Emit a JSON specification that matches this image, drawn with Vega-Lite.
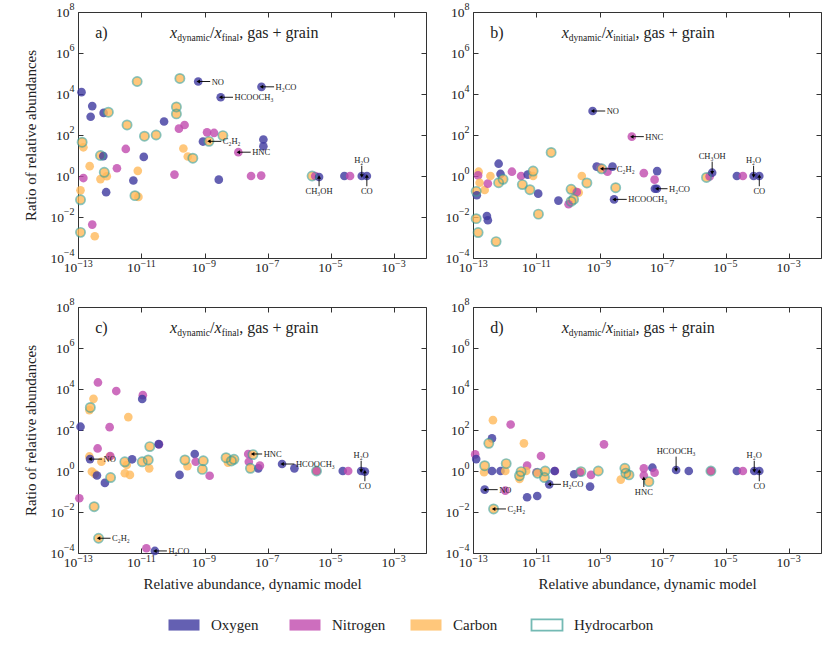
{
  "$schema": "https://vega.github.io/schema/vega-lite/v6.json",
  "background": "white",
  "padding": {"left": 23, "top": 1, "right": 0, "bottom": 0},
  "config": {
    "font": "Liberation Serif",
    "view": {"stroke": "#333", "strokeWidth": 1},
    "text": {"font": "Liberation Serif", "color": "#222"},
    "axis": {"grid": false, "domain": false, "tickSize": -5, "tickColor": "#333", "tickWidth": 1, "labelFont": "Liberation Serif", "labelFontSize": 13.5, "labelColor": "#222", "labelPadding": 4, "labelFlush": false, "labelOverlap": false, "titleFont": "Liberation Serif", "titleFontSize": 15, "titleFontWeight": "normal", "titleColor": "#222"}
  },
  "datasets": {
    "pts": [
      {"panel":"a","x":1.29e-13,"y":12300,"group":"Oxygen"},
      {"panel":"a","x":2.82e-13,"y":2570,"group":"Oxygen"},
      {"panel":"a","x":2.51e-13,"y":776,"group":"Oxygen"},
      {"panel":"a","x":6.46e-13,"y":1200,"group":"Oxygen"},
      {"panel":"a","x":9.12e-13,"y":1290,"group":"Carbon","hc":true},
      {"panel":"a","x":1.35e-13,"y":44.7,"group":"Carbon","hc":true},
      {"panel":"a","x":1.48e-13,"y":25.1,"group":"Carbon"},
      {"panel":"a","x":5.13e-13,"y":10,"group":"Carbon","hc":true},
      {"panel":"a","x":6.31e-13,"y":9.33,"group":"Oxygen"},
      {"panel":"a","x":2.34e-13,"y":3.02,"group":"Carbon"},
      {"panel":"a","x":6.76e-13,"y":1.51,"group":"Carbon","hc":true},
      {"panel":"a","x":5.13e-13,"y":0.708,"group":"Carbon"},
      {"panel":"a","x":8.13e-13,"y":0.977,"group":"Carbon"},
      {"panel":"a","x":1.48e-13,"y":0.794,"group":"Nitrogen"},
      {"panel":"a","x":1.2e-13,"y":0.2,"group":"Carbon"},
      {"panel":"a","x":1.2e-13,"y":0.0692,"group":"Carbon","hc":true},
      {"panel":"a","x":7.76e-13,"y":0.162,"group":"Oxygen"},
      {"panel":"a","x":2.82e-13,"y":0.00427,"group":"Nitrogen"},
      {"panel":"a","x":3.39e-13,"y":0.00115,"group":"Carbon"},
      {"panel":"a","x":1.2e-13,"y":0.00178,"group":"Carbon","hc":true},
      {"panel":"a","x":1.7e-12,"y":2.4,"group":"Nitrogen"},
      {"panel":"a","x":3.24e-12,"y":20.9,"group":"Nitrogen"},
      {"panel":"a","x":3.55e-12,"y":309,"group":"Carbon","hc":true},
      {"panel":"a","x":7.41e-12,"y":40700,"group":"Carbon","hc":true},
      {"panel":"a","x":1.26e-11,"y":87.1,"group":"Carbon","hc":true},
      {"panel":"a","x":1.2e-11,"y":8.51,"group":"Oxygen"},
      {"panel":"a","x":7.76e-12,"y":1.78,"group":"Carbon"},
      {"panel":"a","x":5.62e-12,"y":0.603,"group":"Oxygen"},
      {"panel":"a","x":6.31e-12,"y":0.11,"group":"Carbon","hc":true},
      {"panel":"a","x":8.13e-12,"y":0.0955,"group":"Carbon"},
      {"panel":"a","x":2.95e-11,"y":100,"group":"Carbon","hc":true},
      {"panel":"a","x":5.25e-11,"y":457,"group":"Oxygen"},
      {"panel":"a","x":1.66e-10,"y":57500,"group":"Carbon","hc":true},
      {"panel":"a","x":1.29e-10,"y":2340,"group":"Carbon","hc":true},
      {"panel":"a","x":1.29e-10,"y":1070,"group":"Carbon","hc":true},
      {"panel":"a","x":1.55e-10,"y":204,"group":"Nitrogen"},
      {"panel":"a","x":2.34e-10,"y":309,"group":"Nitrogen"},
      {"panel":"a","x":2.14e-10,"y":21.9,"group":"Carbon"},
      {"panel":"a","x":2.95e-10,"y":8.91,"group":"Carbon"},
      {"panel":"a","x":4.27e-10,"y":7.41,"group":"Carbon","hc":true},
      {"panel":"a","x":1.12e-10,"y":1.17,"group":"Nitrogen"},
      {"panel":"a","x":6.31e-10,"y":40700,"group":"Oxygen"},
      {"panel":"a","x":8.91e-10,"y":47.9,"group":"Oxygen"},
      {"panel":"a","x":1.2e-9,"y":135,"group":"Nitrogen"},
      {"panel":"a","x":2.0e-9,"y":126,"group":"Nitrogen"},
      {"panel":"a","x":1.38e-9,"y":49,"group":"Carbon","hc":true},
      {"panel":"a","x":3.8e-9,"y":93.3,"group":"Carbon","hc":true},
      {"panel":"a","x":3.24e-9,"y":6920,"group":"Oxygen"},
      {"panel":"a","x":2.82e-9,"y":0.661,"group":"Oxygen"},
      {"panel":"a","x":1.17e-8,"y":14.5,"group":"Nitrogen"},
      {"panel":"a","x":2.95e-8,"y":1.0,"group":"Nitrogen"},
      {"panel":"a","x":6.17e-8,"y":1.05,"group":"Nitrogen"},
      {"panel":"a","x":6.31e-8,"y":22400,"group":"Oxygen"},
      {"panel":"a","x":7.24e-8,"y":60.3,"group":"Oxygen"},
      {"panel":"a","x":7.24e-8,"y":28.2,"group":"Oxygen"},
      {"panel":"a","x":2.51e-6,"y":1,"group":"Carbon","hc":true},
      {"panel":"a","x":3.16e-6,"y":1,"group":"Nitrogen"},
      {"panel":"a","x":4.17e-6,"y":0.891,"group":"Oxygen"},
      {"panel":"a","x":2.63e-5,"y":1,"group":"Oxygen"},
      {"panel":"a","x":3.98e-5,"y":1,"group":"Nitrogen"},
      {"panel":"a","x":9.33e-5,"y":1,"group":"Oxygen"},
      {"panel":"a","x":1.35e-4,"y":1,"group":"Oxygen"},

      {"panel":"b","x":1.51e-13,"y":1.62,"group":"Carbon"},
      {"panel":"b","x":1.45e-13,"y":1.07,"group":"Nitrogen"},
      {"panel":"b","x":1.62e-13,"y":0.468,"group":"Carbon"},
      {"panel":"b","x":2.34e-13,"y":0.209,"group":"Carbon"},
      {"panel":"b","x":2.95e-13,"y":0.427,"group":"Nitrogen"},
      {"panel":"b","x":1.26e-13,"y":0.178,"group":"Carbon","hc":true},
      {"panel":"b","x":1.32e-13,"y":0.115,"group":"Oxygen"},
      {"panel":"b","x":3.55e-13,"y":1.0,"group":"Carbon"},
      {"panel":"b","x":6.46e-13,"y":3.98,"group":"Oxygen"},
      {"panel":"b","x":7.41e-13,"y":1.26,"group":"Oxygen"},
      {"panel":"b","x":6.46e-13,"y":0.468,"group":"Carbon","hc":true},
      {"panel":"b","x":8.91e-13,"y":0.692,"group":"Carbon","hc":true},
      {"panel":"b","x":1.7e-12,"y":1.62,"group":"Nitrogen"},
      {"panel":"b","x":3.31e-12,"y":1.0,"group":"Nitrogen"},
      {"panel":"b","x":3.63e-12,"y":0.38,"group":"Carbon","hc":true},
      {"panel":"b","x":5.37e-12,"y":1.17,"group":"Oxygen"},
      {"panel":"b","x":7.94e-12,"y":1.74,"group":"Carbon","hc":true},
      {"panel":"b","x":7.94e-12,"y":1.0,"group":"Carbon"},
      {"panel":"b","x":6.31e-12,"y":0.214,"group":"Carbon","hc":true},
      {"panel":"b","x":1.15e-11,"y":0.138,"group":"Oxygen"},
      {"panel":"b","x":1.17e-11,"y":0.0138,"group":"Carbon","hc":true},
      {"panel":"b","x":2.95e-11,"y":14.1,"group":"Carbon","hc":true},
      {"panel":"b","x":5.01e-11,"y":0.0631,"group":"Oxygen"},
      {"panel":"b","x":1.26e-10,"y":0.224,"group":"Carbon","hc":true},
      {"panel":"b","x":1.58e-10,"y":0.186,"group":"Carbon"},
      {"panel":"b","x":2.19e-10,"y":0.155,"group":"Carbon"},
      {"panel":"b","x":1.91e-10,"y":0.166,"group":"Nitrogen"},
      {"panel":"b","x":1.51e-10,"y":0.0724,"group":"Carbon","hc":true},
      {"panel":"b","x":1.26e-10,"y":0.0575,"group":"Carbon","hc":true},
      {"panel":"b","x":1.05e-10,"y":0.0417,"group":"Nitrogen"},
      {"panel":"b","x":2.75e-10,"y":1.0,"group":"Carbon"},
      {"panel":"b","x":3.98e-10,"y":0.457,"group":"Carbon","hc":true},
      {"panel":"b","x":8.13e-10,"y":2.88,"group":"Oxygen"},
      {"panel":"b","x":1.05e-9,"y":2.51,"group":"Nitrogen"},
      {"panel":"b","x":1.17e-9,"y":2.24,"group":"Carbon","hc":true},
      {"panel":"b","x":1.78e-9,"y":1.62,"group":"Nitrogen"},
      {"panel":"b","x":2.57e-9,"y":2.88,"group":"Oxygen"},
      {"panel":"b","x":3.24e-9,"y":0.269,"group":"Carbon","hc":true},
      {"panel":"b","x":2.88e-9,"y":0.0724,"group":"Oxygen"},
      {"panel":"b","x":2.51e-8,"y":1.38,"group":"Nitrogen"},
      {"panel":"b","x":6.61e-8,"y":1.74,"group":"Oxygen"},
      {"panel":"b","x":5.5e-8,"y":0.661,"group":"Nitrogen"},
      {"panel":"b","x":5.62e-8,"y":0.24,"group":"Oxygen"},
      {"panel":"b","x":6.46e-8,"y":0.24,"group":"Oxygen"},
      {"panel":"b","x":2.75e-13,"y":0.0112,"group":"Oxygen"},
      {"panel":"b","x":2.95e-13,"y":0.00692,"group":"Oxygen"},
      {"panel":"b","x":1.26e-13,"y":0.00832,"group":"Carbon","hc":true},
      {"panel":"b","x":1.45e-13,"y":0.00174,"group":"Carbon","hc":true},
      {"panel":"b","x":5.37e-13,"y":0.000631,"group":"Carbon","hc":true},
      {"panel":"b","x":6.03e-10,"y":1480,"group":"Oxygen"},
      {"panel":"b","x":1.05e-8,"y":83.2,"group":"Nitrogen"},
      {"panel":"b","x":2.4e-6,"y":0.851,"group":"Carbon","hc":true},
      {"panel":"b","x":3.02e-6,"y":0.955,"group":"Nitrogen"},
      {"panel":"b","x":3.63e-6,"y":1.45,"group":"Oxygen"},
      {"panel":"b","x":2.19e-5,"y":1,"group":"Oxygen"},
      {"panel":"b","x":3.39e-5,"y":1,"group":"Nitrogen"},
      {"panel":"b","x":7.41e-5,"y":1,"group":"Oxygen"},
      {"panel":"b","x":1.12e-4,"y":1,"group":"Oxygen"},

      {"panel":"c","x":1.2e-13,"y":145,"group":"Oxygen"},
      {"panel":"c","x":4.27e-13,"y":20900,"group":"Nitrogen"},
      {"panel":"c","x":3.09e-13,"y":3310,"group":"Carbon"},
      {"panel":"c","x":2.45e-13,"y":1260,"group":"Carbon","hc":true},
      {"panel":"c","x":2.29e-13,"y":933,"group":"Carbon"},
      {"panel":"c","x":1.62e-12,"y":7940,"group":"Nitrogen"},
      {"panel":"c","x":3.89e-12,"y":427,"group":"Carbon"},
      {"panel":"c","x":1.12e-11,"y":5010,"group":"Nitrogen"},
      {"panel":"c","x":1.07e-11,"y":3240,"group":"Oxygen"},
      {"panel":"c","x":1.0e-12,"y":138,"group":"Nitrogen"},
      {"panel":"c","x":4.17e-13,"y":12.6,"group":"Nitrogen"},
      {"panel":"c","x":2.29e-13,"y":5.13,"group":"Carbon"},
      {"panel":"c","x":2.4e-13,"y":3.8,"group":"Oxygen"},
      {"panel":"c","x":5.5e-13,"y":2.82,"group":"Carbon"},
      {"panel":"c","x":2.75e-13,"y":0.933,"group":"Carbon"},
      {"panel":"c","x":3.39e-13,"y":0.724,"group":"Carbon"},
      {"panel":"c","x":3.98e-13,"y":0.603,"group":"Oxygen"},
      {"panel":"c","x":1.0e-12,"y":5.01,"group":"Carbon"},
      {"panel":"c","x":1.05e-12,"y":5.37,"group":"Nitrogen"},
      {"panel":"c","x":7.08e-13,"y":0.263,"group":"Oxygen"},
      {"panel":"c","x":1.07e-12,"y":0.479,"group":"Carbon","hc":true},
      {"panel":"c","x":1.1e-13,"y":0.0468,"group":"Nitrogen"},
      {"panel":"c","x":3.24e-13,"y":0.0182,"group":"Carbon","hc":true},
      {"panel":"c","x":4.47e-13,"y":0.000525,"group":"Carbon","hc":true},
      {"panel":"c","x":1.45e-11,"y":0.00017,"group":"Nitrogen"},
      {"panel":"c","x":2.69e-11,"y":0.000126,"group":"Oxygen"},
      {"panel":"c","x":3.02e-12,"y":2.82,"group":"Carbon","hc":true},
      {"panel":"c","x":3.47e-12,"y":1.95,"group":"Carbon"},
      {"panel":"c","x":3.02e-12,"y":0.776,"group":"Carbon"},
      {"panel":"c","x":4.37e-12,"y":0.646,"group":"Carbon"},
      {"panel":"c","x":5.13e-12,"y":3.72,"group":"Oxygen"},
      {"panel":"c","x":1.07e-11,"y":2.82,"group":"Carbon","hc":true},
      {"panel":"c","x":1.66e-11,"y":3.47,"group":"Carbon","hc":true},
      {"panel":"c","x":1.78e-11,"y":1.35,"group":"Carbon"},
      {"panel":"c","x":1.86e-11,"y":15.5,"group":"Carbon","hc":true},
      {"panel":"c","x":3.63e-11,"y":20.0,"group":"Nitrogen"},
      {"panel":"c","x":3.55e-11,"y":20.4,"group":"Oxygen"},
      {"panel":"c","x":1.62e-10,"y":0.646,"group":"Oxygen"},
      {"panel":"c","x":2.4e-10,"y":3.47,"group":"Carbon","hc":true},
      {"panel":"c","x":2.88e-10,"y":1.74,"group":"Carbon"},
      {"panel":"c","x":4.9e-10,"y":6.76,"group":"Oxygen"},
      {"panel":"c","x":5.25e-10,"y":2.82,"group":"Nitrogen"},
      {"panel":"c","x":9.12e-10,"y":3.16,"group":"Carbon","hc":true},
      {"panel":"c","x":8.51e-10,"y":1.2,"group":"Carbon","hc":true},
      {"panel":"c","x":1.45e-9,"y":0.589,"group":"Nitrogen"},
      {"panel":"c","x":4.79e-9,"y":4.47,"group":"Carbon","hc":true},
      {"panel":"c","x":5.5e-9,"y":2.57,"group":"Carbon"},
      {"panel":"c","x":7.08e-9,"y":3.09,"group":"Carbon","hc":true},
      {"panel":"c","x":8.51e-9,"y":3.72,"group":"Carbon","hc":true},
      {"panel":"c","x":2.4e-8,"y":6.76,"group":"Nitrogen"},
      {"panel":"c","x":3.39e-8,"y":6.31,"group":"Carbon","hc":true},
      {"panel":"c","x":2.51e-8,"y":2.82,"group":"Nitrogen"},
      {"panel":"c","x":2.82e-8,"y":1.35,"group":"Carbon","hc":true},
      {"panel":"c","x":5.01e-8,"y":1.35,"group":"Oxygen"},
      {"panel":"c","x":5.62e-8,"y":1.82,"group":"Nitrogen"},
      {"panel":"c","x":2.82e-7,"y":2.19,"group":"Oxygen"},
      {"panel":"c","x":6.92e-7,"y":1.35,"group":"Oxygen"},
      {"panel":"c","x":3.47e-6,"y":1,"group":"Carbon","hc":true},
      {"panel":"c","x":3.47e-6,"y":1,"group":"Nitrogen"},
      {"panel":"c","x":2.34e-5,"y":1,"group":"Oxygen"},
      {"panel":"c","x":3.47e-5,"y":1,"group":"Nitrogen"},
      {"panel":"c","x":8.91e-5,"y":1,"group":"Oxygen"},
      {"panel":"c","x":1.17e-4,"y":0.933,"group":"Oxygen"},

      {"panel":"d","x":1.17e-13,"y":6.46,"group":"Nitrogen"},
      {"panel":"d","x":1.26e-13,"y":3.8,"group":"Oxygen"},
      {"panel":"d","x":4.27e-13,"y":302,"group":"Carbon"},
      {"panel":"d","x":1.55e-12,"y":186,"group":"Nitrogen"},
      {"panel":"d","x":3.98e-13,"y":38.9,"group":"Oxygen"},
      {"panel":"d","x":3.16e-13,"y":22.4,"group":"Carbon","hc":true},
      {"panel":"d","x":4.07e-12,"y":22.4,"group":"Carbon"},
      {"panel":"d","x":1.41e-11,"y":5.37,"group":"Nitrogen"},
      {"panel":"d","x":5.13e-12,"y":1.82,"group":"Nitrogen"},
      {"panel":"d","x":2.34e-13,"y":1.82,"group":"Carbon","hc":true},
      {"panel":"d","x":1.12e-12,"y":2.29,"group":"Carbon","hc":true},
      {"panel":"d","x":2.24e-13,"y":0.871,"group":"Carbon"},
      {"panel":"d","x":3.98e-13,"y":1.0,"group":"Oxygen"},
      {"panel":"d","x":7.41e-13,"y":1.0,"group":"Oxygen"},
      {"panel":"d","x":1.05e-12,"y":1.0,"group":"Carbon"},
      {"panel":"d","x":3.31e-12,"y":0.933,"group":"Carbon","hc":true},
      {"panel":"d","x":2.95e-12,"y":0.589,"group":"Carbon","hc":true},
      {"panel":"d","x":2.95e-12,"y":0.407,"group":"Carbon"},
      {"panel":"d","x":4.79e-12,"y":1.0,"group":"Carbon"},
      {"panel":"d","x":1.02e-11,"y":0.871,"group":"Nitrogen"},
      {"panel":"d","x":1.1e-11,"y":0.776,"group":"Carbon","hc":true},
      {"panel":"d","x":1.91e-11,"y":1.0,"group":"Carbon","hc":true},
      {"panel":"d","x":1.82e-11,"y":0.479,"group":"Carbon","hc":true},
      {"panel":"d","x":3.89e-11,"y":1.0,"group":"Nitrogen"},
      {"panel":"d","x":3.8e-11,"y":1.0,"group":"Oxygen"},
      {"panel":"d","x":2.57e-11,"y":0.224,"group":"Oxygen"},
      {"panel":"d","x":2.34e-13,"y":0.123,"group":"Oxygen"},
      {"panel":"d","x":1.05e-12,"y":0.11,"group":"Nitrogen"},
      {"panel":"d","x":5.13e-12,"y":0.0525,"group":"Oxygen"},
      {"panel":"d","x":1.07e-11,"y":0.0603,"group":"Oxygen"},
      {"panel":"d","x":4.47e-13,"y":0.0141,"group":"Carbon","hc":true},
      {"panel":"d","x":1.38e-9,"y":20.0,"group":"Nitrogen"},
      {"panel":"d","x":1.58e-10,"y":0.692,"group":"Oxygen"},
      {"panel":"d","x":2.57e-10,"y":0.933,"group":"Carbon","hc":true},
      {"panel":"d","x":2.4e-10,"y":0.871,"group":"Nitrogen"},
      {"panel":"d","x":5.37e-10,"y":0.646,"group":"Nitrogen"},
      {"panel":"d","x":5.01e-10,"y":0.174,"group":"Oxygen"},
      {"panel":"d","x":9.12e-10,"y":1.0,"group":"Carbon","hc":true},
      {"panel":"d","x":4.68e-9,"y":0.38,"group":"Carbon"},
      {"panel":"d","x":6.31e-9,"y":1.35,"group":"Carbon","hc":true},
      {"panel":"d","x":6.76e-9,"y":0.776,"group":"Carbon","hc":true},
      {"panel":"d","x":8.51e-9,"y":0.646,"group":"Carbon","hc":true},
      {"panel":"d","x":2.51e-8,"y":1.35,"group":"Nitrogen"},
      {"panel":"d","x":2.51e-8,"y":0.603,"group":"Nitrogen"},
      {"panel":"d","x":3.63e-8,"y":0.302,"group":"Carbon","hc":true},
      {"panel":"d","x":4.68e-8,"y":1.45,"group":"Oxygen"},
      {"panel":"d","x":5.5e-8,"y":0.832,"group":"Nitrogen"},
      {"panel":"d","x":2.63e-7,"y":1.12,"group":"Oxygen"},
      {"panel":"d","x":6.61e-7,"y":1,"group":"Oxygen"},
      {"panel":"d","x":3.31e-6,"y":1,"group":"Carbon","hc":true},
      {"panel":"d","x":3.31e-6,"y":1,"group":"Nitrogen"},
      {"panel":"d","x":2.19e-5,"y":1,"group":"Oxygen"},
      {"panel":"d","x":3.39e-5,"y":1,"group":"Nitrogen"},
      {"panel":"d","x":7.76e-5,"y":1,"group":"Oxygen"},
      {"panel":"d","x":1.12e-4,"y":1,"group":"Oxygen"}
    ],
    "ann": [
      {"panel":"a","label":"NO","x":6.31e-10,"y":40700,"x2":1.51e-9,"y2":40700,"dir":"right"},
      {"panel":"a","label":"H₂CO","x":6.31e-8,"y":22400,"x2":1.58e-7,"y2":22400,"dir":"right"},
      {"panel":"a","label":"HCOOCH₃","x":3.24e-9,"y":6920,"x2":7.94e-9,"y2":6920,"dir":"right"},
      {"panel":"a","label":"C₂H₂","x":1.38e-9,"y":49,"x2":3.39e-9,"y2":49,"dir":"right"},
      {"panel":"a","label":"HNC","x":1.17e-8,"y":14.5,"x2":2.88e-8,"y2":14.5,"dir":"right"},
      {"panel":"a","label":"CH₃OH","x":4.17e-6,"y":0.891,"x2":4.17e-6,"y2":0.316,"dir":"below"},
      {"panel":"a","label":"H₂O","x":9.33e-5,"y":1,"x2":9.33e-5,"y2":3.16,"dir":"above"},
      {"panel":"a","label":"CO","x":1.35e-4,"y":1,"x2":1.35e-4,"y2":0.316,"dir":"below"},
      {"panel":"b","label":"NO","x":6.03e-10,"y":1480,"x2":1.51e-9,"y2":1480,"dir":"right"},
      {"panel":"b","label":"HNC","x":1.05e-8,"y":83.2,"x2":2.51e-8,"y2":83.2,"dir":"right"},
      {"panel":"b","label":"C₂H₂","x":1.17e-9,"y":2.24,"x2":3.16e-9,"y2":2.24,"dir":"right"},
      {"panel":"b","label":"H₂CO","x":6.46e-8,"y":0.24,"x2":1.41e-7,"y2":0.24,"dir":"right"},
      {"panel":"b","label":"HCOOCH₃","x":2.88e-9,"y":0.0724,"x2":7.24e-9,"y2":0.0724,"dir":"right"},
      {"panel":"b","label":"CH₃OH","x":3.63e-6,"y":1.45,"x2":3.63e-6,"y2":5.01,"dir":"above"},
      {"panel":"b","label":"H₂O","x":7.41e-5,"y":1,"x2":7.41e-5,"y2":3.16,"dir":"above"},
      {"panel":"b","label":"CO","x":1.12e-4,"y":1,"x2":1.12e-4,"y2":0.316,"dir":"below"},
      {"panel":"c","label":"NO","x":2.4e-13,"y":3.8,"x2":5.75e-13,"y2":3.8,"dir":"right"},
      {"panel":"c","label":"C₂H₂","x":4.47e-13,"y":0.000525,"x2":1.07e-12,"y2":0.000525,"dir":"right"},
      {"panel":"c","label":"H₂CO","x":2.69e-11,"y":0.000126,"x2":6.46e-11,"y2":0.000126,"dir":"right"},
      {"panel":"c","label":"HNC","x":3.31e-8,"y":6.76,"x2":6.61e-8,"y2":6.76,"dir":"right"},
      {"panel":"c","label":"HCOOCH₃","x":2.82e-7,"y":2.19,"x2":6.92e-7,"y2":2.19,"dir":"right"},
      {"panel":"c","label":"H₂O","x":8.91e-5,"y":1,"x2":8.91e-5,"y2":3.16,"dir":"above"},
      {"panel":"c","label":"CO","x":1.17e-4,"y":0.933,"x2":1.17e-4,"y2":0.316,"dir":"below"},
      {"panel":"d","label":"NO","x":2.34e-13,"y":0.123,"x2":6.03e-13,"y2":0.123,"dir":"right"},
      {"panel":"d","label":"C₂H₂","x":4.47e-13,"y":0.0141,"x2":1.1e-12,"y2":0.0141,"dir":"right"},
      {"panel":"d","label":"H₂CO","x":2.57e-11,"y":0.224,"x2":6.03e-11,"y2":0.224,"dir":"right"},
      {"panel":"d","label":"HNC","x":2.51e-8,"y":0.447,"x2":2.51e-8,"y2":0.166,"dir":"below"},
      {"panel":"d","label":"HCOOCH₃","x":2.63e-7,"y":1.12,"x2":2.63e-7,"y2":5.01,"dir":"above"},
      {"panel":"d","label":"H₂O","x":7.76e-5,"y":1,"x2":7.76e-5,"y2":3.16,"dir":"above"},
      {"panel":"d","label":"CO","x":1.12e-4,"y":1,"x2":1.12e-4,"y2":0.316,"dir":"below"}
    ],
    "ttl": [
      {"panel":"a","kind":"rm","x":3.5e-13,"y":1e7,"text":"a)"},
      {"panel":"a","kind":"xi","x":8.15e-11,"y":1e7,"text":"x"},
      {"panel":"a","kind":"sub","x":1.371e-10,"y":1e7,"text":"dynamic"},
      {"panel":"a","kind":"rm","x":1.496e-9,"y":1e7,"text":"/"},
      {"panel":"a","kind":"xi","x":2.075e-9,"y":1e7,"text":"x"},
      {"panel":"a","kind":"sub","x":3.49e-9,"y":1e7,"text":"final"},
      {"panel":"a","kind":"rm","x":1.245e-8,"y":1e7,"text":", gas + grain"},
      {"panel":"b","kind":"rm","x":3.5e-13,"y":1e7,"text":"b)"},
      {"panel":"b","kind":"xi","x":6.35e-11,"y":1e7,"text":"x"},
      {"panel":"b","kind":"sub","x":1.069e-10,"y":1e7,"text":"dynamic"},
      {"panel":"b","kind":"rm","x":1.167e-9,"y":1e7,"text":"/"},
      {"panel":"b","kind":"xi","x":1.607e-9,"y":1e7,"text":"x"},
      {"panel":"b","kind":"sub","x":2.704e-9,"y":1e7,"text":"initial"},
      {"panel":"b","kind":"rm","x":1.371e-8,"y":1e7,"text":", gas + grain"},
      {"panel":"c","kind":"rm","x":3.5e-13,"y":1e7,"text":"c)"},
      {"panel":"c","kind":"xi","x":8.15e-11,"y":1e7,"text":"x"},
      {"panel":"c","kind":"sub","x":1.371e-10,"y":1e7,"text":"dynamic"},
      {"panel":"c","kind":"rm","x":1.496e-9,"y":1e7,"text":"/"},
      {"panel":"c","kind":"xi","x":2.075e-9,"y":1e7,"text":"x"},
      {"panel":"c","kind":"sub","x":3.49e-9,"y":1e7,"text":"final"},
      {"panel":"c","kind":"rm","x":1.245e-8,"y":1e7,"text":", gas + grain"},
      {"panel":"d","kind":"rm","x":3.5e-13,"y":1e7,"text":"d)"},
      {"panel":"d","kind":"xi","x":6.35e-11,"y":1e7,"text":"x"},
      {"panel":"d","kind":"sub","x":1.069e-10,"y":1e7,"text":"dynamic"},
      {"panel":"d","kind":"rm","x":1.167e-9,"y":1e7,"text":"/"},
      {"panel":"d","kind":"xi","x":1.607e-9,"y":1e7,"text":"x"},
      {"panel":"d","kind":"sub","x":2.704e-9,"y":1e7,"text":"initial"},
      {"panel":"d","kind":"rm","x":1.371e-8,"y":1e7,"text":", gas + grain"}
    ],
    "leg": [
      {"group":"Oxygen"},{"group":"Nitrogen"},{"group":"Carbon"},{"group":"Hydrocarbon"}
    ]
  },
  "spacing": 23,
  "vconcat": [
   {"spacing": 22, "vconcat": [
    {"spacing": 17, "hconcat": [
      {"width": 348, "height": 246, "resolve": {"axis": {"x": "independent", "y": "independent"}},
       "layer": [
        {"layer": [
          {"data": {"name": "pts"}, "transform": [{"filter": "datum.panel === 'a'"}],
           "mark": {"type": "point", "filled": true, "size": 75, "fillOpacity": 0.8, "strokeWidth": 0},
           "encoding": {
             "x": {"field": "x", "type": "quantitative", "scale": {"type": "log", "domain": [1e-13, 0.01], "nice": false},
                   "axis": {"values": [1e-13, 1e-11, 1e-9, 1e-7, 1e-5, 0.001], "labelExpr": "'10'", "title": null, "labelPadding": 7, "labelOffset": {"condition": {"test": "datum.value < 1e-10", "value": -8}, "value": -6.5}}},
             "y": {"field": "y", "type": "quantitative", "scale": {"type": "log", "domain": [0.0001, 100000000], "nice": false},
                   "axis": {"values": [0.0001, 0.01, 1, 100, 10000, 1000000, 100000000], "labelExpr": "'10'", "title": "Ratio of relative abundances", "titlePadding": 11, "labelPadding": {"condition": {"test": "datum.value < 0.5", "value": 19.6}, "value": 14}}},
             "fill": {"field": "group", "type": "nominal", "scale": {"domain": ["Oxygen", "Nitrogen", "Carbon", "Hydrocarbon"], "range": ["#3d389f", "#c04aae", "#ffb95a", "#ffffff"]}, "legend": null}
           }},
          {"data": {"name": "pts"}, "transform": [{"filter": "datum.panel === 'a' && datum.hc"}],
           "mark": {"type": "point", "filled": false, "size": 85, "stroke": "#3a9e94", "strokeWidth": 1.7, "strokeOpacity": 0.85},
           "encoding": {"x": {"field": "x", "type": "quantitative", "axis": {"title": null}}, "y": {"field": "y", "type": "quantitative", "axis": {"title": "Ratio of relative abundances"}}}},
          {"mark": {"type": "rule", "strokeDash": [6, 3.5], "color": "#777", "strokeWidth": 1.4},
           "encoding": {"y": {"datum": 1, "type": "quantitative", "axis": {"title": "Ratio of relative abundances"}}}},
          {"data": {"name": "ann"}, "transform": [{"filter": "datum.panel === 'a'"}],
           "mark": {"type": "rule", "color": "black", "strokeWidth": 0.9},
           "encoding": {"x": {"field": "x", "type": "quantitative", "axis": {"title": null}}, "y": {"field": "y", "type": "quantitative", "axis": {"title": "Ratio of relative abundances"}}, "x2": {"field": "x2"}, "y2": {"field": "y2"}}},
          {"data": {"name": "ann"}, "transform": [{"filter": "datum.panel === 'a'"}],
           "mark": {"type": "point", "filled": true, "color": "black", "size": 16, "opacity": 1, "strokeWidth": 0},
           "encoding": {"x": {"field": "x", "type": "quantitative", "axis": {"title": null}}, "y": {"field": "y", "type": "quantitative", "axis": {"title": "Ratio of relative abundances"}},
             "shape": {"field": "dir", "type": "nominal", "scale": {"domain": ["right", "above", "below"], "range": ["triangle-left", "triangle-down", "triangle-up"]}, "legend": null}}},
          {"data": {"name": "ann"}, "transform": [{"filter": "datum.panel === 'a' && datum.dir === 'right'"}],
           "mark": {"type": "text", "align": "left", "baseline": "middle", "dx": 1.5, "fontSize": 8.5},
           "encoding": {"x": {"field": "x2", "type": "quantitative", "axis": {"title": null}}, "y": {"field": "y2", "type": "quantitative", "axis": {"title": "Ratio of relative abundances"}}, "text": {"field": "label"}}},
          {"data": {"name": "ann"}, "transform": [{"filter": "datum.panel === 'a' && datum.dir === 'above'"}],
           "mark": {"type": "text", "align": "center", "baseline": "bottom", "dy": -1, "fontSize": 8.5},
           "encoding": {"x": {"field": "x2", "type": "quantitative", "axis": {"title": null}}, "y": {"field": "y2", "type": "quantitative", "axis": {"title": "Ratio of relative abundances"}}, "text": {"field": "label"}}},
          {"data": {"name": "ann"}, "transform": [{"filter": "datum.panel === 'a' && datum.dir === 'below'"}],
           "mark": {"type": "text", "align": "center", "baseline": "top", "dy": 1, "fontSize": 8.5},
           "encoding": {"x": {"field": "x2", "type": "quantitative", "axis": {"title": null}}, "y": {"field": "y2", "type": "quantitative", "axis": {"title": "Ratio of relative abundances"}}, "text": {"field": "label"}}},
          {"data": {"name": "ttl"}, "transform": [{"filter": "datum.panel === 'a' && datum.kind === 'rm'"}],
           "mark": {"type": "text", "align": "left", "baseline": "middle", "fontSize": 16},
           "encoding": {"x": {"field": "x", "type": "quantitative", "axis": {"title": null}}, "y": {"field": "y", "type": "quantitative", "axis": {"title": "Ratio of relative abundances"}}, "text": {"field": "text"}}},
          {"data": {"name": "ttl"}, "transform": [{"filter": "datum.panel === 'a' && datum.kind === 'xi'"}],
           "mark": {"type": "text", "align": "left", "baseline": "middle", "fontSize": 16, "fontStyle": "italic"},
           "encoding": {"x": {"field": "x", "type": "quantitative", "axis": {"title": null}}, "y": {"field": "y", "type": "quantitative", "axis": {"title": "Ratio of relative abundances"}}, "text": {"field": "text"}}},
          {"data": {"name": "ttl"}, "transform": [{"filter": "datum.panel === 'a' && datum.kind === 'sub'"}],
           "mark": {"type": "text", "align": "left", "baseline": "middle", "fontSize": 9.5, "dy": 5},
           "encoding": {"x": {"field": "x", "type": "quantitative", "axis": {"title": null}}, "y": {"field": "y", "type": "quantitative", "axis": {"title": "Ratio of relative abundances"}}, "text": {"field": "text"}}}
        ]},
        {"data": {"name": "pts"}, "transform": [{"filter": "datum.panel === 'a'"}],
         "mark": {"type": "point", "opacity": 0},
         "encoding": {"x": {"field": "x", "type": "quantitative", "axis": {"orient": "top", "labels": false, "title": null, "values": [1e-13, 1e-11, 1e-9, 1e-7, 1e-5, 0.001]}},
                      "y": {"field": "y", "type": "quantitative", "axis": {"orient": "right", "labels": false, "title": null, "values": [0.0001, 0.01, 1, 100, 10000, 1000000, 100000000]}}}},
        {"data": {"name": "pts"}, "transform": [{"filter": "datum.panel === 'a'"}],
         "mark": {"type": "point", "opacity": 0},
         "encoding": {"x": {"field": "x", "type": "quantitative", "axis": {"orient": "bottom", "ticks": false, "title": null, "labelFontSize": 10, "labelAlign": "left", "labelPadding": 0, "values": [1e-13, 1e-11, 1e-9, 1e-7, 1e-5, 0.001], "labelExpr": "['−13','−11','−9','−7','−5','−3'][round((log(datum.value)/LN10+13)/2)]", "labelOffset": {"condition": {"test": "datum.value < 1e-10", "value": -1.3}, "value": 0.2}}},
                      "y": {"field": "y", "type": "quantitative", "axis": {"orient": "left", "ticks": false, "title": null, "labelFontSize": 10, "labelAlign": "right", "labelPadding": 4, "labelOffset": -5.5, "values": [0.0001, 0.01, 1, 100, 10000, 1000000, 100000000], "labelExpr": "['−4','−2','0','2','4','6','8'][round((log(datum.value)/LN10+4)/2)]"}}}}
       ]},
      {"width": 348, "height": 246, "resolve": {"axis": {"x": "independent", "y": "independent"}},
       "layer": [
        {"layer": [
          {"data": {"name": "pts"}, "transform": [{"filter": "datum.panel === 'b'"}],
           "mark": {"type": "point", "filled": true, "size": 75, "fillOpacity": 0.8, "strokeWidth": 0},
           "encoding": {
             "x": {"field": "x", "type": "quantitative", "scale": {"type": "log", "domain": [1e-13, 0.01], "nice": false},
                   "axis": {"values": [1e-13, 1e-11, 1e-9, 1e-7, 1e-5, 0.001], "labelExpr": "'10'", "title": null, "labelPadding": 7, "labelOffset": {"condition": {"test": "datum.value < 1e-10", "value": -8}, "value": -6.5}}},
             "y": {"field": "y", "type": "quantitative", "scale": {"type": "log", "domain": [0.0001, 100000000], "nice": false},
                   "axis": {"values": [0.0001, 0.01, 1, 100, 10000, 1000000, 100000000], "labelExpr": "'10'", "title": null, "labelPadding": {"condition": {"test": "datum.value < 0.5", "value": 19.6}, "value": 14}}},
             "fill": {"field": "group", "type": "nominal", "scale": {"domain": ["Oxygen", "Nitrogen", "Carbon", "Hydrocarbon"], "range": ["#3d389f", "#c04aae", "#ffb95a", "#ffffff"]}, "legend": null}
           }},
          {"data": {"name": "pts"}, "transform": [{"filter": "datum.panel === 'b' && datum.hc"}],
           "mark": {"type": "point", "filled": false, "size": 85, "stroke": "#3a9e94", "strokeWidth": 1.7, "strokeOpacity": 0.85},
           "encoding": {"x": {"field": "x", "type": "quantitative", "axis": {"title": null}}, "y": {"field": "y", "type": "quantitative", "axis": {"title": null}}}},
          {"mark": {"type": "rule", "strokeDash": [6, 3.5], "color": "#777", "strokeWidth": 1.4},
           "encoding": {"y": {"datum": 1, "type": "quantitative", "axis": {"title": null}}}},
          {"data": {"name": "ann"}, "transform": [{"filter": "datum.panel === 'b'"}],
           "mark": {"type": "rule", "color": "black", "strokeWidth": 0.9},
           "encoding": {"x": {"field": "x", "type": "quantitative", "axis": {"title": null}}, "y": {"field": "y", "type": "quantitative", "axis": {"title": null}}, "x2": {"field": "x2"}, "y2": {"field": "y2"}}},
          {"data": {"name": "ann"}, "transform": [{"filter": "datum.panel === 'b'"}],
           "mark": {"type": "point", "filled": true, "color": "black", "size": 16, "opacity": 1, "strokeWidth": 0},
           "encoding": {"x": {"field": "x", "type": "quantitative", "axis": {"title": null}}, "y": {"field": "y", "type": "quantitative", "axis": {"title": null}},
             "shape": {"field": "dir", "type": "nominal", "scale": {"domain": ["right", "above", "below"], "range": ["triangle-left", "triangle-down", "triangle-up"]}, "legend": null}}},
          {"data": {"name": "ann"}, "transform": [{"filter": "datum.panel === 'b' && datum.dir === 'right'"}],
           "mark": {"type": "text", "align": "left", "baseline": "middle", "dx": 1.5, "fontSize": 8.5},
           "encoding": {"x": {"field": "x2", "type": "quantitative", "axis": {"title": null}}, "y": {"field": "y2", "type": "quantitative", "axis": {"title": null}}, "text": {"field": "label"}}},
          {"data": {"name": "ann"}, "transform": [{"filter": "datum.panel === 'b' && datum.dir === 'above'"}],
           "mark": {"type": "text", "align": "center", "baseline": "bottom", "dy": -1, "fontSize": 8.5},
           "encoding": {"x": {"field": "x2", "type": "quantitative", "axis": {"title": null}}, "y": {"field": "y2", "type": "quantitative", "axis": {"title": null}}, "text": {"field": "label"}}},
          {"data": {"name": "ann"}, "transform": [{"filter": "datum.panel === 'b' && datum.dir === 'below'"}],
           "mark": {"type": "text", "align": "center", "baseline": "top", "dy": 1, "fontSize": 8.5},
           "encoding": {"x": {"field": "x2", "type": "quantitative", "axis": {"title": null}}, "y": {"field": "y2", "type": "quantitative", "axis": {"title": null}}, "text": {"field": "label"}}},
          {"data": {"name": "ttl"}, "transform": [{"filter": "datum.panel === 'b' && datum.kind === 'rm'"}],
           "mark": {"type": "text", "align": "left", "baseline": "middle", "fontSize": 16},
           "encoding": {"x": {"field": "x", "type": "quantitative", "axis": {"title": null}}, "y": {"field": "y", "type": "quantitative", "axis": {"title": null}}, "text": {"field": "text"}}},
          {"data": {"name": "ttl"}, "transform": [{"filter": "datum.panel === 'b' && datum.kind === 'xi'"}],
           "mark": {"type": "text", "align": "left", "baseline": "middle", "fontSize": 16, "fontStyle": "italic"},
           "encoding": {"x": {"field": "x", "type": "quantitative", "axis": {"title": null}}, "y": {"field": "y", "type": "quantitative", "axis": {"title": null}}, "text": {"field": "text"}}},
          {"data": {"name": "ttl"}, "transform": [{"filter": "datum.panel === 'b' && datum.kind === 'sub'"}],
           "mark": {"type": "text", "align": "left", "baseline": "middle", "fontSize": 9.5, "dy": 5},
           "encoding": {"x": {"field": "x", "type": "quantitative", "axis": {"title": null}}, "y": {"field": "y", "type": "quantitative", "axis": {"title": null}}, "text": {"field": "text"}}}
        ]},
        {"data": {"name": "pts"}, "transform": [{"filter": "datum.panel === 'b'"}],
         "mark": {"type": "point", "opacity": 0},
         "encoding": {"x": {"field": "x", "type": "quantitative", "axis": {"orient": "top", "labels": false, "title": null, "values": [1e-13, 1e-11, 1e-9, 1e-7, 1e-5, 0.001]}},
                      "y": {"field": "y", "type": "quantitative", "axis": {"orient": "right", "labels": false, "title": null, "values": [0.0001, 0.01, 1, 100, 10000, 1000000, 100000000]}}}},
        {"data": {"name": "pts"}, "transform": [{"filter": "datum.panel === 'b'"}],
         "mark": {"type": "point", "opacity": 0},
         "encoding": {"x": {"field": "x", "type": "quantitative", "axis": {"orient": "bottom", "ticks": false, "title": null, "labelFontSize": 10, "labelAlign": "left", "labelPadding": 0, "values": [1e-13, 1e-11, 1e-9, 1e-7, 1e-5, 0.001], "labelExpr": "['−13','−11','−9','−7','−5','−3'][round((log(datum.value)/LN10+13)/2)]", "labelOffset": {"condition": {"test": "datum.value < 1e-10", "value": -1.3}, "value": 0.2}}},
                      "y": {"field": "y", "type": "quantitative", "axis": {"orient": "left", "ticks": false, "title": null, "labelFontSize": 10, "labelAlign": "right", "labelPadding": 4, "labelOffset": -5.5, "values": [0.0001, 0.01, 1, 100, 10000, 1000000, 100000000], "labelExpr": "['−4','−2','0','2','4','6','8'][round((log(datum.value)/LN10+4)/2)]"}}}}
       ]}
    ]},
    {"spacing": 17, "hconcat": [
      {"width": 348, "height": 246, "resolve": {"axis": {"x": "independent", "y": "independent"}},
       "layer": [
        {"layer": [
          {"data": {"name": "pts"}, "transform": [{"filter": "datum.panel === 'c'"}],
           "mark": {"type": "point", "filled": true, "size": 75, "fillOpacity": 0.8, "strokeWidth": 0},
           "encoding": {
             "x": {"field": "x", "type": "quantitative", "scale": {"type": "log", "domain": [1e-13, 0.01], "nice": false},
                   "axis": {"values": [1e-13, 1e-11, 1e-9, 1e-7, 1e-5, 0.001], "labelExpr": "'10'", "title": "Relative abundance, dynamic model", "titlePadding": 8, "labelPadding": 7, "labelOffset": {"condition": {"test": "datum.value < 1e-10", "value": -8}, "value": -6.5}}},
             "y": {"field": "y", "type": "quantitative", "scale": {"type": "log", "domain": [0.0001, 100000000], "nice": false},
                   "axis": {"values": [0.0001, 0.01, 1, 100, 10000, 1000000, 100000000], "labelExpr": "'10'", "title": "Ratio of relative abundances", "titlePadding": 11, "labelPadding": {"condition": {"test": "datum.value < 0.5", "value": 19.6}, "value": 14}}},
             "fill": {"field": "group", "type": "nominal", "scale": {"domain": ["Oxygen", "Nitrogen", "Carbon", "Hydrocarbon"], "range": ["#3d389f", "#c04aae", "#ffb95a", "#ffffff"]}, "legend": null}
           }},
          {"data": {"name": "pts"}, "transform": [{"filter": "datum.panel === 'c' && datum.hc"}],
           "mark": {"type": "point", "filled": false, "size": 85, "stroke": "#3a9e94", "strokeWidth": 1.7, "strokeOpacity": 0.85},
           "encoding": {"x": {"field": "x", "type": "quantitative", "axis": {"title": "Relative abundance, dynamic model"}}, "y": {"field": "y", "type": "quantitative", "axis": {"title": "Ratio of relative abundances"}}}},
          {"mark": {"type": "rule", "strokeDash": [6, 3.5], "color": "#777", "strokeWidth": 1.4},
           "encoding": {"y": {"datum": 1, "type": "quantitative", "axis": {"title": "Ratio of relative abundances"}}}},
          {"data": {"name": "ann"}, "transform": [{"filter": "datum.panel === 'c'"}],
           "mark": {"type": "rule", "color": "black", "strokeWidth": 0.9},
           "encoding": {"x": {"field": "x", "type": "quantitative", "axis": {"title": "Relative abundance, dynamic model"}}, "y": {"field": "y", "type": "quantitative", "axis": {"title": "Ratio of relative abundances"}}, "x2": {"field": "x2"}, "y2": {"field": "y2"}}},
          {"data": {"name": "ann"}, "transform": [{"filter": "datum.panel === 'c'"}],
           "mark": {"type": "point", "filled": true, "color": "black", "size": 16, "opacity": 1, "strokeWidth": 0},
           "encoding": {"x": {"field": "x", "type": "quantitative", "axis": {"title": "Relative abundance, dynamic model"}}, "y": {"field": "y", "type": "quantitative", "axis": {"title": "Ratio of relative abundances"}},
             "shape": {"field": "dir", "type": "nominal", "scale": {"domain": ["right", "above", "below"], "range": ["triangle-left", "triangle-down", "triangle-up"]}, "legend": null}}},
          {"data": {"name": "ann"}, "transform": [{"filter": "datum.panel === 'c' && datum.dir === 'right'"}],
           "mark": {"type": "text", "align": "left", "baseline": "middle", "dx": 1.5, "fontSize": 8.5},
           "encoding": {"x": {"field": "x2", "type": "quantitative", "axis": {"title": "Relative abundance, dynamic model"}}, "y": {"field": "y2", "type": "quantitative", "axis": {"title": "Ratio of relative abundances"}}, "text": {"field": "label"}}},
          {"data": {"name": "ann"}, "transform": [{"filter": "datum.panel === 'c' && datum.dir === 'above'"}],
           "mark": {"type": "text", "align": "center", "baseline": "bottom", "dy": -1, "fontSize": 8.5},
           "encoding": {"x": {"field": "x2", "type": "quantitative", "axis": {"title": "Relative abundance, dynamic model"}}, "y": {"field": "y2", "type": "quantitative", "axis": {"title": "Ratio of relative abundances"}}, "text": {"field": "label"}}},
          {"data": {"name": "ann"}, "transform": [{"filter": "datum.panel === 'c' && datum.dir === 'below'"}],
           "mark": {"type": "text", "align": "center", "baseline": "top", "dy": 1, "fontSize": 8.5},
           "encoding": {"x": {"field": "x2", "type": "quantitative", "axis": {"title": "Relative abundance, dynamic model"}}, "y": {"field": "y2", "type": "quantitative", "axis": {"title": "Ratio of relative abundances"}}, "text": {"field": "label"}}},
          {"data": {"name": "ttl"}, "transform": [{"filter": "datum.panel === 'c' && datum.kind === 'rm'"}],
           "mark": {"type": "text", "align": "left", "baseline": "middle", "fontSize": 16},
           "encoding": {"x": {"field": "x", "type": "quantitative", "axis": {"title": "Relative abundance, dynamic model"}}, "y": {"field": "y", "type": "quantitative", "axis": {"title": "Ratio of relative abundances"}}, "text": {"field": "text"}}},
          {"data": {"name": "ttl"}, "transform": [{"filter": "datum.panel === 'c' && datum.kind === 'xi'"}],
           "mark": {"type": "text", "align": "left", "baseline": "middle", "fontSize": 16, "fontStyle": "italic"},
           "encoding": {"x": {"field": "x", "type": "quantitative", "axis": {"title": "Relative abundance, dynamic model"}}, "y": {"field": "y", "type": "quantitative", "axis": {"title": "Ratio of relative abundances"}}, "text": {"field": "text"}}},
          {"data": {"name": "ttl"}, "transform": [{"filter": "datum.panel === 'c' && datum.kind === 'sub'"}],
           "mark": {"type": "text", "align": "left", "baseline": "middle", "fontSize": 9.5, "dy": 5},
           "encoding": {"x": {"field": "x", "type": "quantitative", "axis": {"title": "Relative abundance, dynamic model"}}, "y": {"field": "y", "type": "quantitative", "axis": {"title": "Ratio of relative abundances"}}, "text": {"field": "text"}}}
        ]},
        {"data": {"name": "pts"}, "transform": [{"filter": "datum.panel === 'c'"}],
         "mark": {"type": "point", "opacity": 0},
         "encoding": {"x": {"field": "x", "type": "quantitative", "axis": {"orient": "top", "labels": false, "title": null, "values": [1e-13, 1e-11, 1e-9, 1e-7, 1e-5, 0.001]}},
                      "y": {"field": "y", "type": "quantitative", "axis": {"orient": "right", "labels": false, "title": null, "values": [0.0001, 0.01, 1, 100, 10000, 1000000, 100000000]}}}},
        {"data": {"name": "pts"}, "transform": [{"filter": "datum.panel === 'c'"}],
         "mark": {"type": "point", "opacity": 0},
         "encoding": {"x": {"field": "x", "type": "quantitative", "axis": {"orient": "bottom", "ticks": false, "title": null, "labelFontSize": 10, "labelAlign": "left", "labelPadding": 0, "values": [1e-13, 1e-11, 1e-9, 1e-7, 1e-5, 0.001], "labelExpr": "['−13','−11','−9','−7','−5','−3'][round((log(datum.value)/LN10+13)/2)]", "labelOffset": {"condition": {"test": "datum.value < 1e-10", "value": -1.3}, "value": 0.2}}},
                      "y": {"field": "y", "type": "quantitative", "axis": {"orient": "left", "ticks": false, "title": null, "labelFontSize": 10, "labelAlign": "right", "labelPadding": 4, "labelOffset": -5.5, "values": [0.0001, 0.01, 1, 100, 10000, 1000000, 100000000], "labelExpr": "['−4','−2','0','2','4','6','8'][round((log(datum.value)/LN10+4)/2)]"}}}}
       ]},
      {"width": 348, "height": 246, "resolve": {"axis": {"x": "independent", "y": "independent"}},
       "layer": [
        {"layer": [
          {"data": {"name": "pts"}, "transform": [{"filter": "datum.panel === 'd'"}],
           "mark": {"type": "point", "filled": true, "size": 75, "fillOpacity": 0.8, "strokeWidth": 0},
           "encoding": {
             "x": {"field": "x", "type": "quantitative", "scale": {"type": "log", "domain": [1e-13, 0.01], "nice": false},
                   "axis": {"values": [1e-13, 1e-11, 1e-9, 1e-7, 1e-5, 0.001], "labelExpr": "'10'", "title": "Relative abundance, dynamic model", "titlePadding": 8, "labelPadding": 7, "labelOffset": {"condition": {"test": "datum.value < 1e-10", "value": -8}, "value": -6.5}}},
             "y": {"field": "y", "type": "quantitative", "scale": {"type": "log", "domain": [0.0001, 100000000], "nice": false},
                   "axis": {"values": [0.0001, 0.01, 1, 100, 10000, 1000000, 100000000], "labelExpr": "'10'", "title": null, "labelPadding": {"condition": {"test": "datum.value < 0.5", "value": 19.6}, "value": 14}}},
             "fill": {"field": "group", "type": "nominal", "scale": {"domain": ["Oxygen", "Nitrogen", "Carbon", "Hydrocarbon"], "range": ["#3d389f", "#c04aae", "#ffb95a", "#ffffff"]}, "legend": null}
           }},
          {"data": {"name": "pts"}, "transform": [{"filter": "datum.panel === 'd' && datum.hc"}],
           "mark": {"type": "point", "filled": false, "size": 85, "stroke": "#3a9e94", "strokeWidth": 1.7, "strokeOpacity": 0.85},
           "encoding": {"x": {"field": "x", "type": "quantitative", "axis": {"title": "Relative abundance, dynamic model"}}, "y": {"field": "y", "type": "quantitative", "axis": {"title": null}}}},
          {"mark": {"type": "rule", "strokeDash": [6, 3.5], "color": "#777", "strokeWidth": 1.4},
           "encoding": {"y": {"datum": 1, "type": "quantitative", "axis": {"title": null}}}},
          {"data": {"name": "ann"}, "transform": [{"filter": "datum.panel === 'd'"}],
           "mark": {"type": "rule", "color": "black", "strokeWidth": 0.9},
           "encoding": {"x": {"field": "x", "type": "quantitative", "axis": {"title": "Relative abundance, dynamic model"}}, "y": {"field": "y", "type": "quantitative", "axis": {"title": null}}, "x2": {"field": "x2"}, "y2": {"field": "y2"}}},
          {"data": {"name": "ann"}, "transform": [{"filter": "datum.panel === 'd'"}],
           "mark": {"type": "point", "filled": true, "color": "black", "size": 16, "opacity": 1, "strokeWidth": 0},
           "encoding": {"x": {"field": "x", "type": "quantitative", "axis": {"title": "Relative abundance, dynamic model"}}, "y": {"field": "y", "type": "quantitative", "axis": {"title": null}},
             "shape": {"field": "dir", "type": "nominal", "scale": {"domain": ["right", "above", "below"], "range": ["triangle-left", "triangle-down", "triangle-up"]}, "legend": null}}},
          {"data": {"name": "ann"}, "transform": [{"filter": "datum.panel === 'd' && datum.dir === 'right'"}],
           "mark": {"type": "text", "align": "left", "baseline": "middle", "dx": 1.5, "fontSize": 8.5},
           "encoding": {"x": {"field": "x2", "type": "quantitative", "axis": {"title": "Relative abundance, dynamic model"}}, "y": {"field": "y2", "type": "quantitative", "axis": {"title": null}}, "text": {"field": "label"}}},
          {"data": {"name": "ann"}, "transform": [{"filter": "datum.panel === 'd' && datum.dir === 'above'"}],
           "mark": {"type": "text", "align": "center", "baseline": "bottom", "dy": -1, "fontSize": 8.5},
           "encoding": {"x": {"field": "x2", "type": "quantitative", "axis": {"title": "Relative abundance, dynamic model"}}, "y": {"field": "y2", "type": "quantitative", "axis": {"title": null}}, "text": {"field": "label"}}},
          {"data": {"name": "ann"}, "transform": [{"filter": "datum.panel === 'd' && datum.dir === 'below'"}],
           "mark": {"type": "text", "align": "center", "baseline": "top", "dy": 1, "fontSize": 8.5},
           "encoding": {"x": {"field": "x2", "type": "quantitative", "axis": {"title": "Relative abundance, dynamic model"}}, "y": {"field": "y2", "type": "quantitative", "axis": {"title": null}}, "text": {"field": "label"}}},
          {"data": {"name": "ttl"}, "transform": [{"filter": "datum.panel === 'd' && datum.kind === 'rm'"}],
           "mark": {"type": "text", "align": "left", "baseline": "middle", "fontSize": 16},
           "encoding": {"x": {"field": "x", "type": "quantitative", "axis": {"title": "Relative abundance, dynamic model"}}, "y": {"field": "y", "type": "quantitative", "axis": {"title": null}}, "text": {"field": "text"}}},
          {"data": {"name": "ttl"}, "transform": [{"filter": "datum.panel === 'd' && datum.kind === 'xi'"}],
           "mark": {"type": "text", "align": "left", "baseline": "middle", "fontSize": 16, "fontStyle": "italic"},
           "encoding": {"x": {"field": "x", "type": "quantitative", "axis": {"title": "Relative abundance, dynamic model"}}, "y": {"field": "y", "type": "quantitative", "axis": {"title": null}}, "text": {"field": "text"}}},
          {"data": {"name": "ttl"}, "transform": [{"filter": "datum.panel === 'd' && datum.kind === 'sub'"}],
           "mark": {"type": "text", "align": "left", "baseline": "middle", "fontSize": 9.5, "dy": 5},
           "encoding": {"x": {"field": "x", "type": "quantitative", "axis": {"title": "Relative abundance, dynamic model"}}, "y": {"field": "y", "type": "quantitative", "axis": {"title": null}}, "text": {"field": "text"}}}
        ]},
        {"data": {"name": "pts"}, "transform": [{"filter": "datum.panel === 'd'"}],
         "mark": {"type": "point", "opacity": 0},
         "encoding": {"x": {"field": "x", "type": "quantitative", "axis": {"orient": "top", "labels": false, "title": null, "values": [1e-13, 1e-11, 1e-9, 1e-7, 1e-5, 0.001]}},
                      "y": {"field": "y", "type": "quantitative", "axis": {"orient": "right", "labels": false, "title": null, "values": [0.0001, 0.01, 1, 100, 10000, 1000000, 100000000]}}}},
        {"data": {"name": "pts"}, "transform": [{"filter": "datum.panel === 'd'"}],
         "mark": {"type": "point", "opacity": 0},
         "encoding": {"x": {"field": "x", "type": "quantitative", "axis": {"orient": "bottom", "ticks": false, "title": null, "labelFontSize": 10, "labelAlign": "left", "labelPadding": 0, "values": [1e-13, 1e-11, 1e-9, 1e-7, 1e-5, 0.001], "labelExpr": "['−13','−11','−9','−7','−5','−3'][round((log(datum.value)/LN10+13)/2)]", "labelOffset": {"condition": {"test": "datum.value < 1e-10", "value": -1.3}, "value": 0.2}}},
                      "y": {"field": "y", "type": "quantitative", "axis": {"orient": "left", "ticks": false, "title": null, "labelFontSize": 10, "labelAlign": "right", "labelPadding": 4, "labelOffset": -5.5, "values": [0.0001, 0.01, 1, 100, 10000, 1000000, 100000000], "labelExpr": "['−4','−2','0','2','4','6','8'][round((log(datum.value)/LN10+4)/2)]"}}}}
       ]}
    ]}
   ]},
    {"width": 700, "height": 12, "view": {"stroke": null},
     "data": {"name": "leg"},
     "layer": [
       {"mark": {"type": "point", "shape": "M-1,-0.36H1V0.36H-1Z", "size": 961, "filled": true, "fillOpacity": 0.8, "strokeWidth": 1.8},
        "encoding": {
          "x": {"field": "group", "type": "nominal", "sort": null, "scale": {"type": "point", "padding": 0, "domain": ["Oxygen", "Nitrogen", "Carbon", "Hydrocarbon"], "range": [106, 469]}, "axis": null},
          "fill": {"field": "group", "type": "nominal", "legend": null},
          "stroke": {"condition": {"test": "datum.group === 'Hydrocarbon'", "value": "#74bab4"}, "value": "transparent"}
        }},
       {"mark": {"type": "text", "align": "left", "baseline": "middle", "dx": 27, "fontSize": 15},
        "encoding": {
          "x": {"field": "group", "type": "nominal", "sort": null, "axis": null},
          "text": {"field": "group"}
        }}
     ]}
  ]
}
